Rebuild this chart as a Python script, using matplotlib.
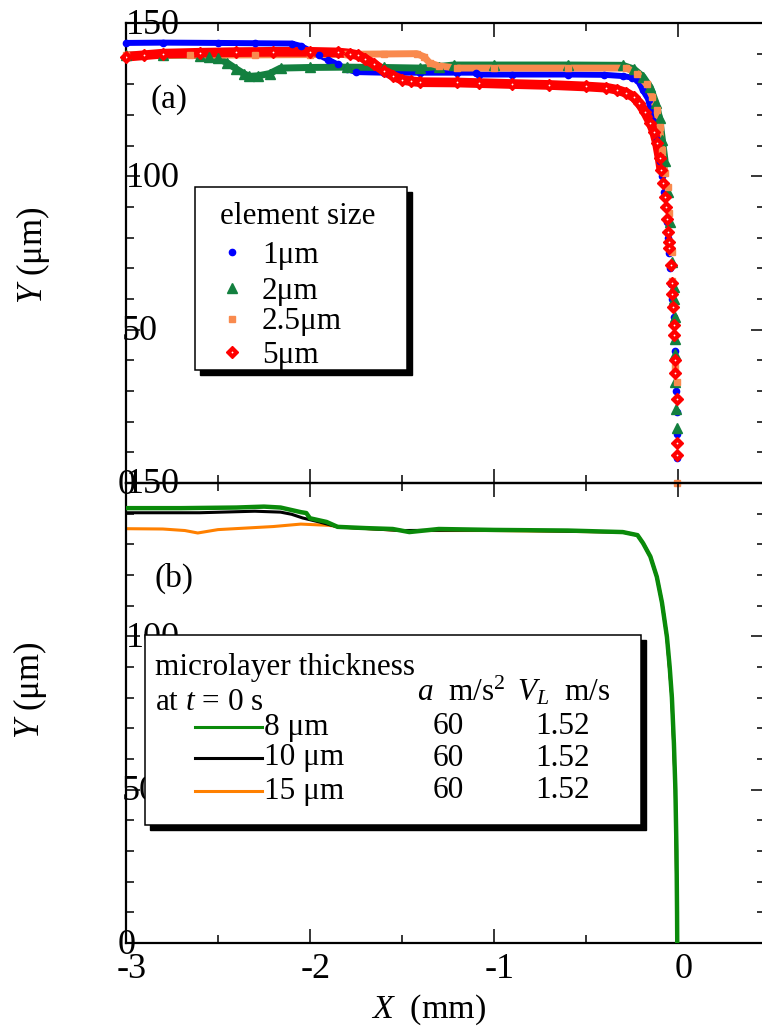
import numpy as np
import matplotlib
matplotlib.use("Agg")
import matplotlib.pyplot as plt
import matplotlib.transforms as mtransforms
from matplotlib.patches import Rectangle

plt.rcParams['font.family'] = ['Liberation Serif', 'DejaVu Serif']
plt.rcParams['mathtext.fontset'] = 'custom'
plt.rcParams['mathtext.rm'] = 'Liberation Serif'
plt.rcParams['mathtext.it'] = 'Liberation Serif:italic'
plt.rcParams['axes.unicode_minus'] = False

# ---- (a) free-surface profiles for different element sizes ----
x_1um = [-3.0, -2.8, -2.5, -2.3, -2.1, -2.05, -2.0, -1.95, -1.9, -1.85, -1.8, -1.75,
         -1.6, -1.4, -1.2, -1.1, -1.08, -0.9, -0.6, -0.4, -0.3, -0.25, -0.22, -0.19,
         -0.16, -0.15, -0.135, -0.115, -0.1, -0.085,
         -0.075, -0.068, -0.061, -0.055, -0.049, -0.043, -0.037, -0.032, -0.024,
         -0.02, -0.016, -0.012, -0.01, -0.008, -0.006, -0.005]
y_1um = [143.5, 143.6, 143.5, 143.4, 143.3, 142.5, 141.0, 139.5, 138.0, 136.5, 135.0, 134.0,
         133.8, 133.8, 133.8, 133.8, 133.2, 133.2, 133.2, 133.1, 132.7, 132.2, 131.4, 128.0,
         125.0, 121.6, 118.0, 111.8, 105.0, 100.0,
         95.0, 90.0, 85.0, 80.0, 75.0, 70.0, 65.0, 60.0, 54.0,
         48.0, 43.0, 36.0, 30.0, 23.0, 16.0, 8.0]

x_2um = [-3.0, -2.8, -2.6, -2.55, -2.5, -2.45, -2.4, -2.36, -2.33, -2.28, -2.22, -2.16,
         -2.0, -1.8, -1.6, -1.4, -1.3, -1.22, -1.0, -0.6, -0.3, -0.24, -0.19, -0.15,
         -0.12, -0.1, -0.085, -0.07,
         -0.054, -0.043, -0.033, -0.022, -0.021, -0.016, -0.015, -0.015, -0.014,
         -0.012, -0.005]
y_2um = [139.5, 139.5, 139.4, 139.0, 138.5, 137.0, 135.0, 133.5, 132.6, 132.8, 133.5, 135.3,
         135.5, 135.6, 135.5, 135.3, 135.8, 136.3, 136.3, 136.3, 136.2, 135.0, 132.5, 129.0,
         124.0, 119.0, 112.0, 105.0,
         95.0, 85.0, 72.0, 64.0, 60.0, 54.0, 47.0, 42.0, 33.0,
         24.0, 18.0]

x_25um = [-3.0, -2.65, -2.3, -2.0, -1.8, -1.6, -1.42, -1.38, -1.35, -1.3, -1.2, -1.0,
          -0.6, -0.28, -0.22, -0.17, -0.14, -0.115, -0.1, -0.087, -0.07,
          -0.054, -0.049, -0.033, -0.033, -0.027, -0.016, -0.005, -0.005]
y_25um = [139.5, 139.5, 139.6, 139.7, 139.8, 139.9, 140.0, 139.0, 137.0, 136.0, 135.3, 135.3,
          135.3, 135.3, 133.5, 130.0, 126.0, 121.6, 116.0, 108.6, 101.0,
          96.5, 88.0, 75.3, 66.0, 57.4, 37.8, 33.0, 0.0]

x_5um = [-3.0, -2.9, -2.8, -2.6, -2.4, -2.2, -2.0, -1.85, -1.78, -1.74, -1.7, -1.65,
         -1.6, -1.55, -1.5, -1.45, -1.4, -1.2, -1.08, -0.9, -0.7, -0.5, -0.39, -0.33,
         -0.28, -0.24, -0.21, -0.18, -0.15, -0.13, -0.115, -0.1, -0.09,
         -0.08, -0.071, -0.065, -0.06, -0.054, -0.049, -0.047, -0.038, -0.033, -0.031,
         -0.027, -0.022, -0.021, -0.016, -0.015, -0.006, -0.005, -0.005]
y_5um = [139.0, 139.5, 140.0, 140.3, 140.5, 140.6, 140.6, 140.4, 140.0, 139.5, 138.3, 136.5,
         134.5, 132.8, 131.5, 131.0, 130.7, 130.6, 130.4, 130.1, 129.8, 129.3, 128.9, 128.2,
         127.2, 125.8, 123.8, 121.0, 117.5, 114.5, 111.0, 106.0, 102.0,
         97.8, 93.3, 90.0, 86.0, 81.8, 78.6, 76.6, 71.0, 65.2, 61.6,
         57.4, 51.5, 48.3, 40.1, 35.9, 27.4, 13.0, 9.1]

# ---- (b) profiles for different initial microlayer thickness ----
x_8um = [-3.0, -2.7, -2.4, -2.25, -2.16, -2.05, -2.02, -2.0, -1.91, -1.85, -1.7, -1.55,
         -1.46, -1.3, -1.0, -0.6, -0.3, -0.22, -0.19, -0.15, -0.115, -0.087, -0.06,
         -0.045, -0.033, -0.022, -0.014, -0.008, -0.005, -0.004]
y_8um = [141.8, 141.8, 142.0, 142.3, 142.0, 140.5, 140.2, 138.5, 137.3, 135.7, 135.3, 135.0,
         134.0, 135.0, 134.7, 134.5, 134.0, 133.0, 130.4, 126.0, 119.4, 111.0, 99.8,
         90.0, 80.0, 65.0, 50.0, 30.0, 10.0, 0.0]

x_10um = [-3.0, -2.6, -2.3, -2.16, -2.1, -2.04, -1.95, -1.85, -1.5, -1.0, -0.3, -0.22,
          -0.19, -0.15, -0.115, -0.087, -0.06, -0.033, -0.014, -0.005, -0.004]
y_10um = [140.3, 140.3, 140.8, 140.5, 139.8, 138.6, 137.3, 135.7, 134.5, 134.7, 134.0, 133.0,
          130.4, 126.0, 119.4, 111.0, 99.8, 80.0, 50.0, 10.0, 0.0]

x_15um = [-3.0, -2.8, -2.68, -2.61, -2.5, -2.2, -2.05, -1.9, -1.8, -1.5, -1.0, -0.3, -0.22,
          -0.19, -0.15, -0.115, -0.087, -0.06, -0.033, -0.014, -0.005, -0.004]
y_15um = [135.1, 135.0, 134.5, 133.7, 134.8, 135.8, 136.6, 136.2, 135.5, 134.5, 134.5, 134.0,
          133.0, 130.4, 126.0, 119.4, 111.0, 99.8, 80.0, 50.0, 10.0, 0.0]

x_ticks = [-3, -2, -1, 0]
y_ticks = [0, 50, 100, 150]

W, H = 762, 1035
fig = plt.figure(figsize=(W / 100, H / 100), dpi=100)


def px_axes(x0, y0, x1, y1):
    return fig.add_axes([x0 / W, 1 - y1 / H, (x1 - x0) / W, (y1 - y0) / H])


ax_a = px_axes(126, 23, 765, 483)
ax_b = px_axes(126, 483, 765, 943)

for ax in (ax_a, ax_b):
    ax.set_facecolor('none')
    ax.set_xlim(-3, 0.473)
    ax.set_ylim(0, 150)
    ax.set_xticks(x_ticks)
    ax.set_xticks([-2.5, -1.5, -0.5], minor=True)
    ax.set_yticks(y_ticks)
    ax.set_yticks(np.arange(0, 151, 10), minor=True)
    ax.tick_params(which='both', direction='in', top=True, right=True, width=1.1,
                   labelleft=False, labelbottom=False)
    ax.tick_params(which='major', length=10)
    ax.tick_params(which='minor', length=6)
    for sp in ax.spines.values():
        sp.set_linewidth(1.6)
    # y tick labels sit just inside the left spine
    for v in y_ticks:
        s = str(v)
        tr = mtransforms.offset_copy(ax.get_yaxis_transform(), fig=fig,
                                     x=4 * len(s) - 12, y=-2, units='dots')
        ax.text(0, v, s, transform=tr, ha='left', va='center', fontsize=26, clip_on=False)

# x tick labels under the lower panel
tr_x = mtransforms.offset_copy(ax_b.get_xaxis_transform(), fig=fig, x=6, y=-27, units='dots')
for v in x_ticks:
    ax_b.text(v, 0, str(v), transform=tr_x, ha='center', va='center', fontsize=26,
              clip_on=False)

# panel (a): thick marker bands, separate markers on the steep part
c_blue, c_green, c_orange, c_red = '#0000ff', '#13803f', '#f98a4e', '#ff0000'
series_a = [
    (x_1um, y_1um, c_blue, 'o', 4.5, 4.3),
    (x_2um, y_2um, c_green, '^', 7, 5.0),
    (x_25um, y_25um, c_orange, 's', 5, 5.0),
    (x_5um, y_5um, c_red, 'D', 6.5, 7.0),
]
for xs, ys, col, mk, ms, lw in series_a:
    xs, ys = np.array(xs), np.array(ys)
    band = ys >= 99
    ax_a.plot(xs[band], ys[band], '-', color=col, lw=lw, solid_capstyle='butt', zorder=2)
    ax_a.plot(xs, ys, mk, color=col, ms=ms, mec=col, zorder=3, clip_on=False)
ax_a.plot(x_5um, y_5um, 'o', color='white', ms=1.3, mew=0, zorder=4)

# panel (b): lines
ax_b.plot(x_15um, y_15um, color='#ff8000', lw=2.2, zorder=2)
ax_b.plot(x_10um, y_10um, color='black', lw=2.2, zorder=3)
ax_b.plot(x_8um, y_8um, color='#0a8a0a', lw=3.2, zorder=4)

# overlay in pixel coordinates for legends and labels
ov = fig.add_axes([0, 0, 1, 1])
ov.set_xlim(0, W)
ov.set_ylim(H, 0)
ov.axis('off')
ov.patch.set_alpha(0)

ov.text(150, 100, '(a)', fontsize=24, ha='left', va='center')
ov.text(155, 578, '(b)', fontsize=24, ha='left', va='center')

ov.text(33, 255, '$Y$ (μm)', fontsize=25, rotation=90, ha='center', va='center')
ov.text(30, 690, '$Y$ (μm)', fontsize=25, rotation=90, ha='center', va='center')
ov.text(428, 1010, '$X$  (mm)', fontsize=24.5, ha='center', va='center')

# legend (a)
ov.add_patch(Rectangle((200, 192), 212, 183, facecolor='black', edgecolor='black', zorder=5))
ov.add_patch(Rectangle((195, 187), 212, 183, facecolor='white', edgecolor='black',
                       lw=1.1, zorder=6))
ov.text(220, 217, 'element size', fontsize=22.5, ha='left', va='center', zorder=7)
leg_a = [('1μm', c_blue, 'o', 4.5, 252), ('2μm', c_green, '^', 7, 288),
         ('2.5μm', c_orange, 's', 5, 319), ('5μm', c_red, 'D', 6.5, 352)]
for lab, col, mk, ms, yy in leg_a:
    ov.plot([232], [yy], mk, color=col, ms=ms, zorder=7)
    ov.text(262, yy + 3, lab, fontsize=22.5, ha='left', va='center', zorder=7)
ov.plot([232], [352], 'o', color='white', ms=1.3, mew=0, zorder=8)

# legend (b)
ov.add_patch(Rectangle((150, 640), 496, 190, facecolor='black', edgecolor='black', zorder=5))
ov.add_patch(Rectangle((145, 635), 496, 190, facecolor='white', edgecolor='black',
                       lw=1.1, zorder=6))
ov.text(155, 668, 'microlayer thickness', fontsize=22.5, ha='left', va='center', zorder=7)
ov.text(155, 702, 'at $t$ = 0 s', fontsize=22.5, ha='left', va='center', zorder=7)
ov.text(417, 693, '$a$  m/s$^2$', fontsize=22.5, ha='left', va='center', zorder=7)
ov.text(517, 693, '$V_L$  m/s', fontsize=22.5, ha='left', va='center', zorder=7)
leg_b = [('8 μm', '#0a8a0a', 727), ('10 μm', 'black', 758), ('15 μm', '#ff8000', 791)]
for lab, col, yy in leg_b:
    ov.plot([195, 262], [yy, yy], color=col, lw=2.2, zorder=7)
    ov.text(264, yy, lab, fontsize=22.5, ha='left', va='center', zorder=7)
    ov.text(448, yy, '60', fontsize=22.5, ha='center', va='center', zorder=7)
    ov.text(563, yy, '1.52', fontsize=22.5, ha='center', va='center', zorder=7)

fig.savefig('out.png', dpi=100)
